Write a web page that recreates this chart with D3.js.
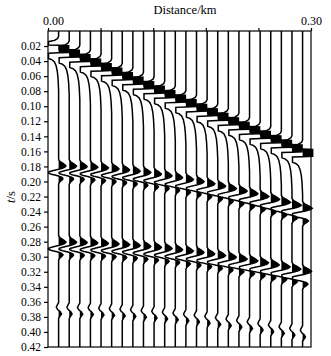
<!DOCTYPE html>
<html>
<head>
<meta charset="utf-8">
<script src="https://cdn.jsdelivr.net/npm/d3@7"></script>
<style>
  body { margin: 0; background: #fff; }
  svg text { font-family: "Liberation Serif", "Times New Roman", serif; fill: #000; }
</style>
</head>
<body>
<svg width="331" height="356"></svg>
<script>
// Trace positions (km)
const offsets = [0.0121, 0.0242, 0.0363, 0.0484, 0.0605, 0.0726, 0.0847, 0.0968,
  0.1089, 0.1210, 0.1331, 0.1452, 0.1573, 0.1694, 0.1815, 0.1936,
  0.2057, 0.2178, 0.2299, 0.2420, 0.2541, 0.2662, 0.2783, 0.2904];

// Arrival times (s), one per trace
const directTimes = [0.024, 0.030, 0.036, 0.042, 0.048, 0.054, 0.060, 0.066,
  0.072, 0.078, 0.084, 0.090, 0.096, 0.102, 0.108, 0.114,
  0.120, 0.126, 0.132, 0.138, 0.144, 0.150, 0.156, 0.162];
const refl1Times = [0.1793, 0.1797, 0.1802, 0.1810, 0.1820, 0.1832, 0.1847, 0.1863,
  0.1881, 0.1902, 0.1924, 0.1948, 0.1974, 0.2002, 0.2031, 0.2062,
  0.2094, 0.2127, 0.2162, 0.2199, 0.2236, 0.2275, 0.2315, 0.2355];
const refl2Times = [0.2806, 0.2808, 0.2812, 0.2817, 0.2823, 0.2831, 0.2840, 0.2851,
  0.2863, 0.2876, 0.2891, 0.2907, 0.2925, 0.2943, 0.2963, 0.2984,
  0.3007, 0.3030, 0.3055, 0.3081, 0.3108, 0.3135, 0.3164, 0.3194];
const refl3Times = [0.3651, 0.3652, 0.3655, 0.3659, 0.3664, 0.3670, 0.3677, 0.3685,
  0.3695, 0.3705, 0.3717, 0.3729, 0.3743, 0.3757, 0.3773, 0.3790,
  0.3807, 0.3826, 0.3845, 0.3866, 0.3887, 0.3910, 0.3933, 0.3957];

// Relative strength of each reflection per trace
const refl1Amps = [1.0, 1.0, 1.0, 1.0, 1.0, 1.0, 1.0, 1.0, 1.0, 1.0, 1.0, 1.0,
  1.02, 1.04, 1.06, 1.08, 1.1, 1.12, 1.15, 1.18, 1.2, 1.22, 1.25, 1.3];
const refl2Amps = [1.0, 1.0, 1.0, 1.0, 1.0, 1.0, 1.0, 1.0, 1.0, 1.0, 1.0, 1.0,
  1.0, 1.02, 1.04, 1.06, 1.08, 1.1, 1.12, 1.14, 1.16, 1.18, 1.2, 1.22];
const refl3Amps = [1.0, 1.0, 1.0, 1.0, 1.0, 1.0, 1.0, 1.0, 1.0, 1.0, 1.0, 1.0,
  1.0, 1.0, 1.0, 1.0, 1.0, 1.0, 1.0, 1.0, 1.0, 1.0, 1.0, 1.0];

// Wavelet shapes: [lag in ms, amplitude in trace spacings]
const directWavelet = [[-17, 0], [-14, -0.1], [-11.5, -0.4], [-9.5, -1.1],
  [-7, -3], [-5.5, -3], [-4.5, 3], [-2, 5], [0, 6], [2, 5], [4.5, 3], [5.5, -3],
  [8, -4], [10, -2], [12, -1.1], [14, -0.65], [17, -0.4], [22, -0.24], [30, -0.12],
  [40, -0.05], [55, 0]];
const reflWavelet = [[-9, 0], [-6, 0.12], [-3, 0.45], [0, 0.7], [2, 0.55], [4, 0.15],
  [6, -0.45], [8, -0.95], [9, -1.05], [11, -0.7], [13, -0.1], [15, 0.3], [17, 0.42],
  [19, 0.3], [21, 0.12], [24, 0]];
const weakWavelet = [[-4, 0], [-1, -0.12], [2, -0.22], [5, -0.1], [8, 0.15],
  [11, 0.28], [14, 0.12], [17, 0]];

// Axis ticks
const xTicks = [0, 0.06, 0.12, 0.18, 0.24, 0.30];
const xTickLabels = ["0.00", "", "", "", "", "0.30"];
const yTicks = [0.02, 0.04, 0.06, 0.08, 0.10, 0.12, 0.14, 0.16, 0.18, 0.20, 0.22,
  0.24, 0.26, 0.28, 0.30, 0.32, 0.34, 0.36, 0.38, 0.40, 0.42];

const svg = d3.select("svg");

const x = d3.scaleLinear().domain([0, 0.30]).range([48, 311]);
const y = d3.scaleLinear().domain([0, 0.42]).range([31, 347]);
const spacing = x(offsets[1]) - x(offsets[0]);
const clipLevel = 0.95;

// turn a wavelet table into a lookup (lag in seconds)
const makeLookup = (w) => d3.scaleLinear()
  .domain(w.map(d => d[0] / 1000))
  .range(w.map(d => d[1]))
  .clamp(true);
const direct = makeLookup(directWavelet);
const refl = makeLookup(reflWavelet);
const weak = makeLookup(weakWavelet);

const times = d3.range(0, 0.42001, 0.0005);

const traces = offsets.map((off, i) => {
  const samples = times.map(t => {
    let a = direct(t - directTimes[i])
      + refl1Amps[i] * refl(t - refl1Times[i])
      + refl2Amps[i] * refl(t - refl2Times[i])
      + refl3Amps[i] * weak(t - refl3Times[i]);
    a = Math.max(-clipLevel, Math.min(clipLevel, a));
    return { t, a };
  });
  return { off, samples };
});

const plot = svg.append("g");

// filled positive lobes
plot.selectAll("path.fill")
  .data(traces)
  .enter()
  .append("path")
  .attr("class", "fill")
  .attr("fill", "#000")
  .attr("d", d => d3.area()
    .y(s => y(s.t))
    .x0(x(d.off))
    .x1(s => x(d.off) + Math.max(0, s.a) * spacing)(d.samples));

// wiggle lines
plot.selectAll("path.wiggle")
  .data(traces)
  .enter()
  .append("path")
  .attr("class", "wiggle")
  .attr("fill", "none")
  .attr("stroke", "#000")
  .attr("stroke-width", 1.5)
  .attr("d", d => d3.line()
    .y(s => y(s.t))
    .x(s => x(d.off) + s.a * spacing)(d.samples));

// frame
svg.append("rect")
  .attr("x", x(0))
  .attr("y", y(0))
  .attr("width", x(0.30) - x(0))
  .attr("height", y(0.42) - y(0))
  .attr("fill", "none")
  .attr("stroke", "#000")
  .attr("stroke-width", 1.2);

// top axis
const xAxis = d3.axisTop(x)
  .tickValues(xTicks)
  .tickFormat((d, i) => xTickLabels[i])
  .tickSize(3)
  .tickSizeOuter(0);
const gx = svg.append("g")
  .attr("transform", `translate(0, ${y(0)})`)
  .call(xAxis);
gx.select(".domain").remove();
gx.selectAll("text").style("font-size", "12px");
// the first label sits a little right of its tick, clear of the y labels
gx.selectAll("text").filter((d, i) => i === 0).attr("dx", 5);
gx.selectAll(".tick line").attr("stroke-width", 1.2);

// left axis
const yAxis = d3.axisLeft(y)
  .tickValues(yTicks)
  .tickFormat(d3.format(".2f"))
  .tickSize(4)
  .tickSizeOuter(0);
const gy = svg.append("g")
  .attr("transform", `translate(${x(0)}, 0)`)
  .call(yAxis);
gy.select(".domain").remove();
gy.selectAll("text").style("font-size", "11.5px");
gy.selectAll(".tick line").attr("stroke-width", 1.2);

// titles
svg.append("text")
  .attr("x", 185)
  .attr("y", 14)
  .attr("text-anchor", "middle")
  .style("font-size", "12.5px")
  .text("Distance/km");

const yt = svg.append("text")
  .attr("transform", "translate(15, 197) rotate(-90)")
  .attr("text-anchor", "middle")
  .style("font-size", "12.5px");
yt.append("tspan").style("font-style", "italic").text("t");
yt.append("tspan").text("/s");
</script>
</body>
</html>
